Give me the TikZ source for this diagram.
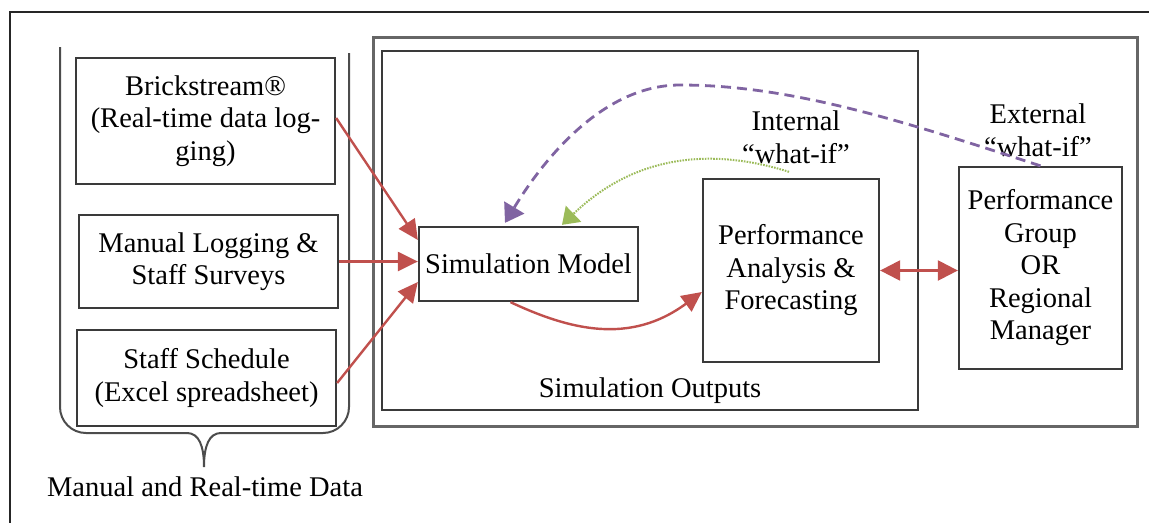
\documentclass[tikz,border=0pt]{standalone}
\usepackage{fontspec}
\setmainfont{Liberation Serif}
\usetikzlibrary{arrows.meta,calc}
\newcommand{\diagfont}{\fontsize{28.5}{32.5}\selectfont}
\definecolor{flowred}{HTML}{C0504D}
\definecolor{loopgreen}{HTML}{9BBB59}
\definecolor{looppurple}{HTML}{8064A2}
\definecolor{boxgray}{HTML}{3A3A3A}

\begin{document}
\begin{tikzpicture}[x=1pt,y=-1pt,
  box/.style={draw=boxgray, line width=2.3pt, fill=white, align=center,
    inner sep=0pt, font=\diagfont},
  label/.style={align=center, inner sep=0pt, font=\diagfont},
  flow/.style={draw=flowred, line width=2.4pt,
    -{Triangle[length=20pt,width=19pt]}},
  twoway/.style={draw=flowred, line width=2.4pt,
    {Triangle[length=20pt,width=20pt]}-{Triangle[length=20pt,width=20pt]}},
  internal/.style={draw=loopgreen, line width=2pt,
    dash pattern=on 1.6pt off 1.2pt,
    -{Triangle[length=16pt,width=22pt,fill=loopgreen]}},
  external/.style={draw=looppurple, line width=2.8pt,
    dash pattern=on 10pt off 6pt,
    -{Triangle[length=18pt,width=23pt,fill=looppurple]}}]

\useasboundingbox (0,0) rectangle (1149,523);

% page frame (runs off the right and bottom edges)
\draw[line width=1.8pt, black!85] (1149,12) -- (10,12) -- (10,523);

% brace grouping the data sources
\draw[line width=2pt, black!70, rounded corners=26pt]
  (60,47) -- (60,433) -- (187,433);
\draw[line width=2pt, black!70]
  (187,433) .. controls (199,433) and (204,446) .. (204,467)
  .. controls (204,446) and (209,433) .. (221,433);
\draw[line width=2pt, black!70, rounded corners=26pt]
  (221,433) -- (349,433) -- (349,53);

% outer system frame and simulation outputs frame
\draw[line width=3pt, black!60] (373,37) rectangle (1137,426);
\draw[line width=2.2pt, boxgray] (382,51) rectangle (918,410);

% data sources
\node[box, minimum width=259pt, minimum height=126pt] (brick) at (205.5,121)
  {Brickstream®\\(Real-time data log-\\ging)};
\node[box, minimum width=259pt, minimum height=93pt] (manual) at (208.5,261.5)
  {Manual Logging \&\\Staff Surveys};
\node[box, minimum width=259pt, minimum height=96pt] (sched) at (206.5,378)
  {Staff Schedule\\(Excel spreadsheet)};
\node[label] (datalbl) at (205,487) {Manual and Real-time Data};

% simulation and analysis
\node[box, minimum width=219pt, minimum height=74pt] (sim) at (528.5,264)
  {Simulation Model};
\node[box, minimum width=176pt, minimum height=183pt] (perf) at (791,270.5)
  {Performance\\Analysis \&\\Forecasting};
\node[box, minimum width=163pt, minimum height=202pt] (group) at (1040.5,268)
  {Performance\\Group\\OR\\Regional\\Manager};

\node[label] (outlbl) at (650,391) {Simulation Outputs};
\node[label] (intlbl) at (796,137) {Internal\\“what-if”};
\node[label] (extlbl) at (1038,130) {External\\“what-if”};

% data flows into the model
\draw[flow] ($(brick.east)+(0,-3)$) -- ($(sim.west)+(0,-24)$);
\draw[flow] (manual.east) -- (manual.east -| sim.west);
\draw[flow] ($(sched.east)+(0,5)$) -- ($(sim.west)+(0,18)$);

% model output to analysis
\draw[flow] ($(sim.south)+(-18,0)$)
  .. controls (570,330) and (630,345) .. ($(perf.west)+(0,21.5)$);

% analysis <-> management
\draw[twoway] (perf.east) -- (perf.east -| group.west);

% what-if feedback loops
\draw[internal] ($(perf.north)+(-2,-6)$)
  .. controls (720,150) and (640,150) .. ($(sim.north)+(33.5,-1)$);
\draw[external] (group.north)
  .. controls (900,120) and (790,85) .. (680,85)
  .. controls (600,85) and (540,165) .. ($(sim.north)+(-23.5,-3)$);

\end{tikzpicture}
\end{document}
